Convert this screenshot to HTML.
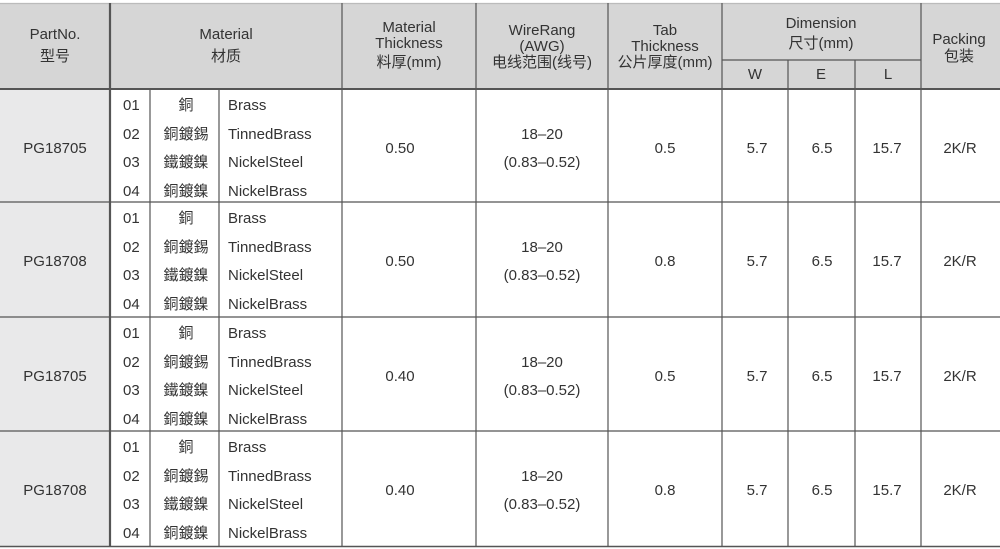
<!DOCTYPE html>
<html><head><meta charset="utf-8"><style>
body{margin:0;width:1000px;height:549px;background:#fff;position:relative;overflow:hidden;font-family:"Liberation Sans","Noto Sans CJK SC",sans-serif;color:#333;font-size:15px}
.t{position:absolute;text-align:center;line-height:16px;transform:translate(-50%,-50%);white-space:nowrap}
.l{position:absolute;line-height:16px;transform:translateY(-50%);white-space:nowrap}
svg{position:absolute;left:0;top:0}
</style></head><body>
<svg width="1000" height="549">
<rect x="0" y="3" width="1000" height="86" fill="#d6d6d6"/>
<rect x="0" y="89" width="109" height="458" fill="#e9e9ea"/>
<g stroke="#555" stroke-width="1.2">
<line x1="0" y1="3.5" x2="1000" y2="3.5" stroke="#bbb"/>
<line x1="0" y1="89" x2="1000" y2="89" stroke-width="2"/>
<line x1="0" y1="202" x2="1000" y2="202"/>
<line x1="0" y1="317" x2="1000" y2="317"/>
<line x1="0" y1="431" x2="1000" y2="431"/>
<line x1="0" y1="546.5" x2="1000" y2="546.5" stroke-width="1.5"/>
<line x1="110" y1="3" x2="110" y2="547" stroke-width="2.2"/>
<line x1="150" y1="89" x2="150" y2="547"/>
<line x1="219" y1="89" x2="219" y2="547"/>
<line x1="342" y1="3" x2="342" y2="547"/>
<line x1="476" y1="3" x2="476" y2="547"/>
<line x1="608" y1="3" x2="608" y2="547"/>
<line x1="722" y1="3" x2="722" y2="547"/>
<line x1="788" y1="60" x2="788" y2="547"/>
<line x1="855" y1="60" x2="855" y2="547"/>
<line x1="921" y1="3" x2="921" y2="547"/>
<line x1="722" y1="60" x2="921" y2="60"/>
</g>
</svg>
<div class="t" style="left:55px;top:46px;line-height:22px">PartNo.<br>型号</div>
<div class="t" style="left:226px;top:46px;line-height:22px">Material<br>材质</div>
<div class="t" style="left:409px;top:47px;line-height:16px">Material<br>Thickness<br><span style="line-height:22px">料厚(mm)</span></div>
<div class="t" style="left:542px;top:47px;line-height:16px">WireRang<br>(AWG)<br>电线范围(线号)</div>
<div class="t" style="left:665px;top:47px;line-height:16px">Tab<br>Thickness<br>公片厚度(mm)</div>
<div class="t" style="left:821px;top:34px;line-height:20px">Dimension<br>尺寸(mm)</div>
<div class="t" style="left:755px;top:75px">W</div>
<div class="t" style="left:821px;top:75px">E</div>
<div class="t" style="left:888px;top:75px">L</div>
<div class="t" style="left:959px;top:48px;line-height:17px">Packing<br>包装</div>
<div id="rows"></div>
<script>
var parts=["PG18705","PG18708","PG18705","PG18708"],mt=["0.50","0.50","0.40","0.40"],tab=["0.5","0.8","0.5","0.8"];
var tops=[89,202,317,431],h="";
var cn=["銅","銅鍍錫","鐵鍍鎳","銅鍍鎳"],en=["Brass","TinnedBrass","NickelSteel","NickelBrass"];
for(var r=0;r<4;r++){var y=tops[r],c=y+60;
for(var i=0;i<4;i++){var yy=y+17+i*28.6;
h+='<div class="l" style="left:123px;top:'+yy+'px">0'+(i+1)+'</div>';
h+='<div class="t" style="left:186px;top:'+yy+'px">'+cn[i]+'</div>';
h+='<div class="l" style="left:228px;top:'+yy+'px">'+en[i]+'</div>';}
h+='<div class="t" style="left:55px;top:'+c+'px">'+parts[r]+'</div>';
h+='<div class="t" style="left:400px;top:'+c+'px">'+mt[r]+'</div>';
h+='<div class="t" style="left:542px;top:'+c+'px;line-height:28px">18–20<br>(0.83–0.52)</div>';
h+='<div class="t" style="left:665px;top:'+c+'px">'+tab[r]+'</div>';
h+='<div class="t" style="left:757px;top:'+c+'px">5.7</div>';
h+='<div class="t" style="left:822px;top:'+c+'px">6.5</div>';
h+='<div class="t" style="left:887px;top:'+c+'px">15.7</div>';
h+='<div class="t" style="left:960px;top:'+c+'px">2K/R</div>';}
document.getElementById("rows").innerHTML=h;
</script>
</body></html>
